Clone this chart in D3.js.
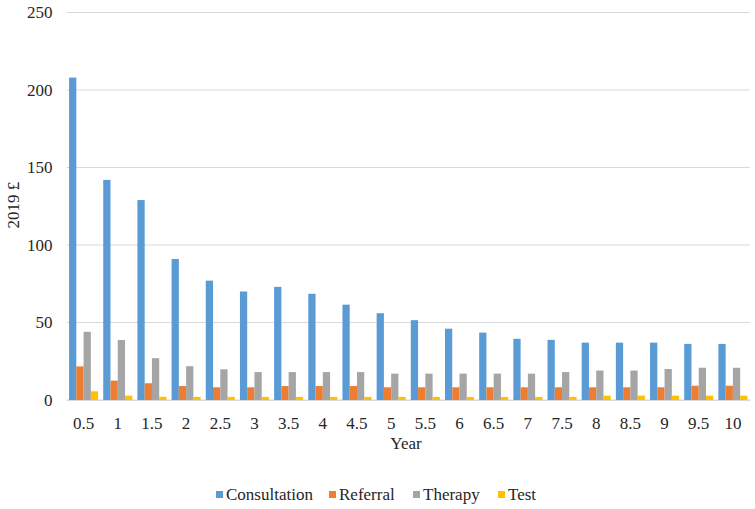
<!DOCTYPE html>
<html><head><meta charset="utf-8">
<script src="https://cdn.jsdelivr.net/npm/d3@7/dist/d3.min.js"></script>
<style>body{margin:0;background:#fff;font-family:'Liberation Serif',serif}</style>
</head><body><svg id="c" width="755" height="509" font-family="Liberation Serif"></svg>
<script>
const years = ["0.5","1","1.5","2","2.5","3","3.5","4","4.5","5","5.5","6","6.5","7","7.5","8","8.5","9","9.5","10"];
const seriesNames = ["Consultation","Referral","Therapy","Test"];
const consultation = [208,142,129,91,77,70,73,68.5,61.5,56,51.5,46,43.5,39.5,38.8,37,37,37,36.2,36.2];
const referral = [21.7,12.5,10.8,9,8.2,8.2,9,9,9,8.2,8.2,8.2,8.2,8.2,8.2,8.2,8.2,8.2,9.2,9.2];
const therapy = [44,38.7,27,21.8,19.8,18,18,18,18,17,17,17,17,17,18,19,19,20,20.8,20.8];
const test = [5.6,2.8,2.1,2,2,2,2,2,2,2,2,2,2,2,2,2.8,2.8,2.8,2.8,2.8];
const yTicks = [0,50,100,150,200,250];
const colors = ["#5B9BD5","#ED7D31","#A5A5A5","#FFC000"];
const seriesVals = [consultation, referral, therapy, test];
const FONT = "Liberation Serif";
const TXT = "#262626";
const FS = 17;

const svg = d3.select("#c");
const m = {l:66.5, r:5, t:12.5, b:109};
const W = 755, H = 509;
const x = d3.scaleBand().domain(years).range([m.l, W - m.r]).paddingInner(0.15).paddingOuter(0.075);
const xs = d3.scaleBand().domain(seriesNames).range([0, x.bandwidth()]);
const y = d3.scaleLinear().domain([0,250]).range([H - m.b, m.t]);

svg.append("g").selectAll("line").data(yTicks).join("line")
  .attr("x1", m.l).attr("x2", W - m.r)
  .attr("y1", d => y(d)).attr("y2", d => y(d))
  .attr("stroke", "#d9d9d9").attr("stroke-width", 1.2);

const ya = svg.append("g").attr("transform", `translate(${m.l},0)`)
  .call(d3.axisLeft(y).tickValues(yTicks).tickSize(0).tickPadding(14));
ya.attr("font-family", FONT).attr("font-size", FS);
ya.select(".domain").remove();
ya.selectAll("text").attr("font-family", FONT).attr("fill", TXT);

const g = svg.append("g");
years.forEach((yr, i) => {
  seriesNames.forEach((s, j) => {
    g.append("rect")
      .attr("x", x(yr) + xs(s))
      .attr("y", y(seriesVals[j][i]))
      .attr("width", xs.bandwidth())
      .attr("height", y(0) - y(seriesVals[j][i]))
      .attr("fill", colors[j]);
  });
});

const xa = svg.append("g").attr("transform", `translate(0,${y(0)})`)
  .call(d3.axisBottom(x).tickSize(0).tickPadding(17));
xa.attr("font-family", FONT).attr("font-size", FS);
xa.select(".domain").attr("stroke","#d9d9d9").attr("stroke-width",1.2);
xa.selectAll("text").attr("font-family", FONT).attr("fill", TXT);

svg.append("text").attr("x", 406).attr("y", 449).attr("text-anchor","middle")
  .attr("font-family", FONT).attr("font-size", FS).attr("fill", TXT).text("Year");
svg.append("text").attr("transform","translate(19,205) rotate(-90)").attr("text-anchor","middle")
  .attr("font-family", FONT).attr("font-size", FS).attr("fill", TXT).text("2019 £");

const legX = [216, 329, 413, 498];
const lg = svg.append("g");
seriesNames.forEach((s, j) => {
  lg.append("rect").attr("x", legX[j]).attr("y", 491).attr("width", 7).attr("height", 7).attr("fill", colors[j]);
  lg.append("text").attr("x", legX[j] + 10).attr("y", 500)
    .attr("font-family", FONT).attr("font-size", FS).attr("fill", TXT).text(s);
});
</script></body></html>
